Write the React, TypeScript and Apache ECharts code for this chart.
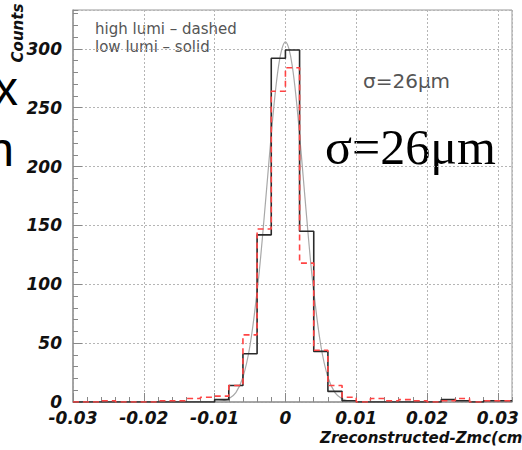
import React, { useEffect, useRef } from "react";
import * as echarts from "echarts";

// bin left edges (cm), bin width 0.002
const binEdges = [
  -0.03, -0.028, -0.026, -0.024, -0.022, -0.02, -0.018, -0.016, -0.014, -0.012,
  -0.01, -0.008, -0.006, -0.004, -0.002, 0, 0.002, 0.004, 0.006, 0.008,
  0.01, 0.012, 0.014, 0.016, 0.018, 0.02, 0.022, 0.024, 0.026, 0.028, 0.03,
];
const lastEdge = 0.032;

// low lumi - solid (black)
const lowLumi = [
  0, 0, 0, 0, 0, 0, 0, 0, 0, 0,
  2, 14, 41, 142, 292, 299, 145, 43, 9, 1,
  0, 0, 0, 0, 0, 0, 2, 1, 0, 1, 1,
];
// high lumi - dashed (red)
const highLumi = [
  0, 0, 1, 0, 0, 0, 1, 1, 3, 4,
  5, 14, 57, 147, 264, 284, 118, 44, 14, 4,
  0, 3, 1, 2, 1, 0, 1, 3, 0, 1, 1,
];

// gaussian fit curve
const fitX = [
  -0.012, -0.01, -0.009, -0.008, -0.007, -0.006, -0.005, -0.004, -0.0035, -0.003,
  -0.0025, -0.002, -0.0015, -0.001, -0.0005, 0, 0.0005, 0.001, 0.0015, 0.002,
  0.0025, 0.003, 0.0035, 0.004, 0.005, 0.006, 0.007, 0.008, 0.009, 0.01, 0.012,
];
const fitY = [
  0, 0.2, 0.8, 2.7, 8, 21, 48, 94, 123, 157,
  192, 227, 259, 284, 300, 306, 300, 284, 259, 227,
  192, 157, 123, 94, 48, 21, 8, 2.7, 0.8, 0.2, 0,
];

const yTicks = [0, 50, 100, 150, 200, 250, 300];
const xMin = -0.03;
const yMax = 333;

function stepData(vals: number[]) {
  const d: number[][] = binEdges.map((x, i) => [x, vals[i]]);
  d.push([lastEdge, vals[vals.length - 1]]);
  return d;
}

export default function App() {
  const ref = useRef<HTMLDivElement>(null);
  useEffect(() => {
    if (!ref.current) return;
    const chart = echarts.init(ref.current, null, { renderer: "svg" });
    const gridPos = { left: 73, right: 10, top: 10, bottom: 48 };
    const labelFont = {
      fontFamily: "DejaVu Sans",
      fontStyle: "italic",
      fontWeight: "bold",
      color: "#111",
      fontSize: 17,
    };
    chart.setOption({
      animation: false,
      backgroundColor: "#fff",
      grid: [
        { ...gridPos, show: false },
        { ...gridPos, show: true, borderColor: "#999", borderWidth: 1, backgroundColor: "transparent" },
      ],
      xAxis: [
        {
          type: "value", gridIndex: 0, min: xMin, max: lastEdge, interval: 0.002,
          axisLine: { show: false },
          axisTick: { show: true, inside: true, length: 5, lineStyle: { color: "#888", width: 1 } },
          axisLabel: { show: false },
          splitLine: { show: false },
        },
        {
          type: "value", gridIndex: 1, min: xMin, max: lastEdge, interval: 0.01,
          axisLine: { show: true, onZero: false, lineStyle: { color: "#999", width: 1.5 } },
          axisTick: { show: true, inside: true, length: 9, lineStyle: { color: "#888" } },
          axisLabel: {
            ...labelFont, margin: 7, showMaxLabel: false,
            formatter: (v: number) => {
              const r = Math.round(v * 100) / 100;
              return r === 0 ? "0" : r.toFixed(2);
            },
          },
          splitLine: { show: true, lineStyle: { color: "#b5b5b5", type: [2, 2], width: 1 } },
        },
      ],
      yAxis: [
        {
          type: "value", gridIndex: 0, min: 0, max: yMax, interval: 10,
          axisLine: { show: false, onZero: false },
          axisTick: { show: true, inside: true, length: 5, lineStyle: { color: "#888" } },
          axisLabel: { show: false },
          splitLine: { show: false },
        },
        {
          type: "value", gridIndex: 1, min: 0, max: yMax, interval: 50,
          axisLine: { show: true, onZero: false, lineStyle: { color: "#999", width: 1.5 } },
          axisTick: { show: true, inside: true, length: 9, lineStyle: { color: "#888" } },
          axisLabel: {
            ...labelFont, margin: 11, showMaxLabel: false,
            formatter: (v: number) => (yTicks.includes(v) ? String(v) : ""),
          },
          splitLine: { show: true, lineStyle: { color: "#b5b5b5", type: [2, 2], width: 1 } },
        },
      ],
      series: [
        {
          type: "line", xAxisIndex: 1, yAxisIndex: 1, smooth: 0.4, symbol: "none",
          data: fitX.map((x, i) => [x, fitY[i]]),
          lineStyle: { color: "#a8a8a8", width: 1.2 },
        },
        {
          type: "line", xAxisIndex: 1, yAxisIndex: 1, step: "end", symbol: "none",
          data: stepData(lowLumi),
          lineStyle: { color: "#2a2a2a", width: 1.6 },
        },
        {
          type: "line", xAxisIndex: 1, yAxisIndex: 1, step: "end", symbol: "none",
          data: stepData(highLumi),
          lineStyle: { color: "#ff4444", width: 1.6, type: [6, 4] },
        },
      ],
      graphic: [
        {
          type: "text", x: 18, y: 33, rotation: Math.PI / 2,
          style: { text: "Counts", font: "italic bold 15px 'DejaVu Sans'", fill: "#111", align: "center", verticalAlign: "middle" },
        },
        {
          type: "text", x: 95, y: 29,
          style: { text: "high lumi – dashed", font: "15px 'DejaVu Sans'", fill: "#555", verticalAlign: "middle" },
        },
        {
          type: "text", x: 95, y: 47,
          style: { text: "low lumi – solid", font: "15px 'DejaVu Sans'", fill: "#555", verticalAlign: "middle" },
        },
        {
          type: "text", x: 363, y: 81,
          style: { text: "σ=26μm", font: "20px 'DejaVu Sans'", fill: "#555", verticalAlign: "middle" },
        },
        {
          type: "text", x: 325, y: 147,
          style: { text: "σ=26μm", font: "50px 'Liberation Serif'", fill: "#000", verticalAlign: "middle" },
        },
        {
          type: "text", x: 18, y: 88,
          style: { text: "x", font: "48px 'Liberation Sans'", fill: "#000", align: "right", verticalAlign: "middle" },
        },
        {
          type: "text", x: 14, y: 149,
          style: { text: "n", font: "48px 'Liberation Sans'", fill: "#000", align: "right", verticalAlign: "middle" },
        },
        {
          type: "text", x: 320, y: 438,
          style: { text: "Zreconstructed-Zmc(cm)", font: "italic bold 15px 'DejaVu Sans'", fill: "#111", verticalAlign: "middle" },
        },
      ],
    });
    return () => chart.dispose();
  }, []);
  return (
    <div
      ref={ref}
      style={{ position: "fixed", left: 0, top: 0, width: 522, height: 450 }}
    />
  );
}
